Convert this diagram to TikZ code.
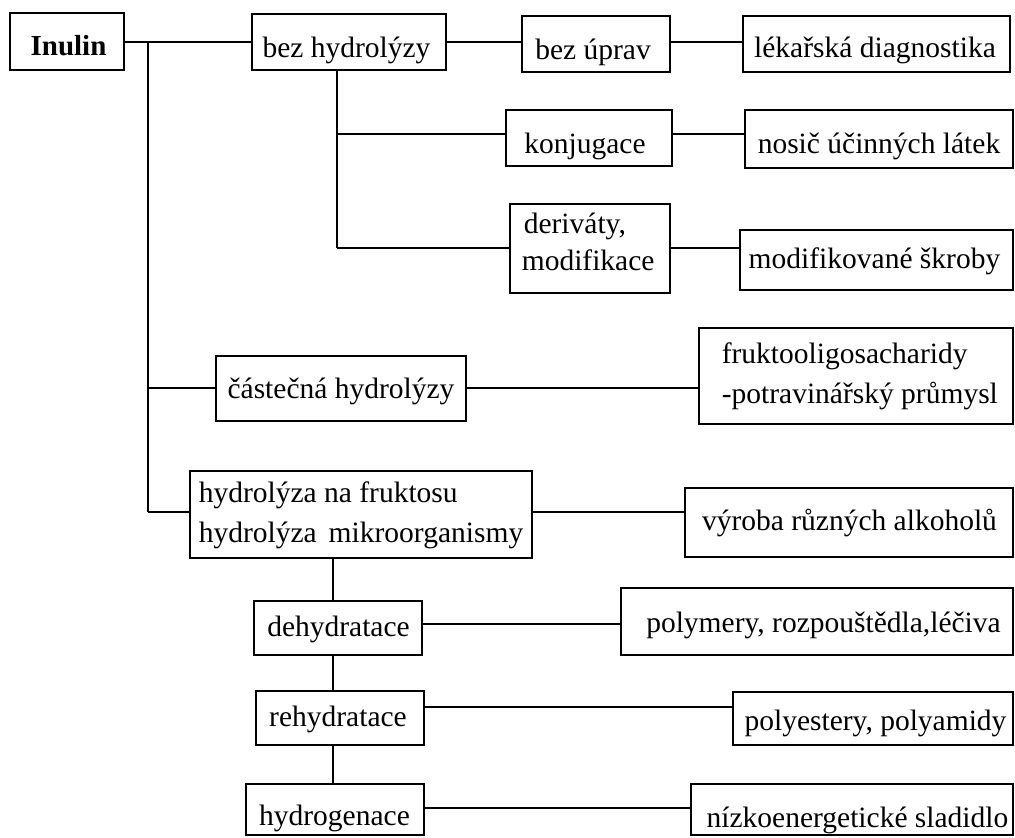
\documentclass[tikz,border=0pt]{standalone}
\usepackage{fontspec}
\setmainfont{Liberation Serif}
\newcommand\mkbox[5]{\node[box, minimum width={(#4-(#2))*1pt}, minimum height={(#5-(#3))*1pt}] (#1) at ({(#2+#4)/2},{(#3+#5)/2}) {};}
\begin{document}
\begin{tikzpicture}[x=1pt,y=-1pt,line width=1.6pt,
  box/.style={draw=black, rectangle, inner sep=0pt, line width=1.6pt},
  lbl/.style={font=\fontsize{29.5}{39}\selectfont, inner sep=0pt},
  ln/.style={draw=black, line width=1.6pt}]
\useasboundingbox (0,0) rectangle (1015,838);
% boxes (name, x1, y1, x2, y2)
\mkbox{inulin}{10}{13}{124}{70}
\mkbox{bezh}{252}{14}{446}{70}
\mkbox{bezu}{522}{16}{670}{72}
\mkbox{lek}{743}{16}{1010}{72}
\mkbox{konj}{506}{110}{672}{166}
\mkbox{nosic}{745}{110}{1013}{168}
\mkbox{deriv}{510}{204}{670}{293}
\mkbox{modif}{740}{230}{1013}{290}
\mkbox{cast}{216}{356}{466}{421}
\mkbox{frukto}{699}{328}{1013}{424}
\mkbox{hydro}{190}{471}{532}{558}
\mkbox{vyroba}{685}{488}{1013}{557}
\mkbox{dehyd}{254}{601}{422}{655}
\mkbox{polym}{621}{588}{1013}{655}
\mkbox{rehyd}{256}{691}{424}{745}
\mkbox{polyes}{733}{692}{1013}{745}
\mkbox{hydrog}{246}{784}{424}{835}
\mkbox{nizko}{691}{784}{1013}{835}
% labels
\node[lbl, anchor=base, font=\fontsize{29}{39}\selectfont\bfseries] (inulin-t) at (68.5,55) {Inulin};
\node[lbl, anchor=base] (bezh-t) at (346.5,57) {bez hydrolýzy};
\node[lbl, anchor=base] (bezu-t) at (593,59) {bez úprav};
\node[lbl, anchor=base] (lek-t) at (875,57) {lékařská diagnostika};
\node[lbl, anchor=base] (konj-t) at (585,153) {konjugace};
\node[lbl, anchor=base] (nosic-t) at (879,153) {nosič účinných látek};
\node[lbl, anchor=base west, align=left, font=\fontsize{29.5}{37}\selectfont] (deriv-t) at (521,270) {\hspace{2pt}deriváty,\\modifikace};
\node[lbl, anchor=base] (modif-t) at (874.5,268) {modifikované škroby};
\node[lbl, anchor=base] (cast-t) at (341,398) {částečná hydrolýzy};
\node[lbl, anchor=base west, align=left, font=\fontsize{29.5}{40}\selectfont] (frukto-t) at (721,403) {fruktooligosacharidy\\-potravinářský průmysl};
\node[lbl, anchor=base west, align=left, font=\fontsize{29.5}{40}\selectfont] (hydro-t) at (198,542) {hydrolýza na fruktosu\\hydrolýza\hspace{12pt}mikroorganismy};
\node[lbl, anchor=base] (vyroba-t) at (849.5,530) {výroba různých alkoholů};
\node[lbl, anchor=base] (dehyd-t) at (338.5,636) {dehydratace};
\node[lbl, anchor=base] (polym-t) at (823.5,632) {polymery, rozpouštědla,léčiva};
\node[lbl, anchor=base] (rehyd-t) at (338,726) {rehydratace};
\node[lbl, anchor=base] (polyes-t) at (875.5,730) {polyestery, polyamidy};
\node[lbl, anchor=base] (hydrog-t) at (334.5,825) {hydrogenace};
\node[lbl, anchor=base] (nizko-t) at (857.5,827) {nízkoenergetické sladidlo};
% junction coordinates
\coordinate (t0) at (148,42);
\coordinate (t1) at (148,388);
\coordinate (t2) at (148,512);
\coordinate (b1) at (337,134);
\coordinate (b2) at (337,248);
\coordinate (v) at (333,0);
\coordinate (d1) at (0,624);
\coordinate (d2) at (0,707);
\coordinate (d3) at (0,808);
% connectors
\draw[ln] (inulin.east |- t0) -- (bezh.west |- t0);
\draw[ln] (t0) -- (t2);
\draw[ln] (t1) -- (cast.west |- t1);
\draw[ln] (t2) -- (hydro.west |- t2);
\draw[ln] (bezh.east |- t0) -- (bezu.west |- t0);
\draw[ln] (bezu.east |- t0) -- (lek.west |- t0);
\draw[ln] (bezh.south -| b1) -- (b2);
\draw[ln] (b1) -- (konj.west |- b1);
\draw[ln] (b2) -- (deriv.west |- b2);
\draw[ln] (konj.east |- b1) -- (nosic.west |- b1);
\draw[ln] (deriv.east |- b2) -- (modif.west |- b2);
\draw[ln] (cast.east |- t1) -- (frukto.west |- t1);
\draw[ln] (hydro.east |- t2) -- (vyroba.west |- t2);
\draw[ln] (hydro.south -| v) -- (dehyd.north -| v);
\draw[ln] (dehyd.south -| v) -- (rehyd.north -| v);
\draw[ln] (rehyd.south -| v) -- (hydrog.north -| v);
\draw[ln] (dehyd.east |- d1) -- (polym.west |- d1);
\draw[ln] (rehyd.east |- d2) -- (polyes.west |- d2);
\draw[ln] (hydrog.east |- d3) -- (nizko.west |- d3);
\end{tikzpicture}
\end{document}
